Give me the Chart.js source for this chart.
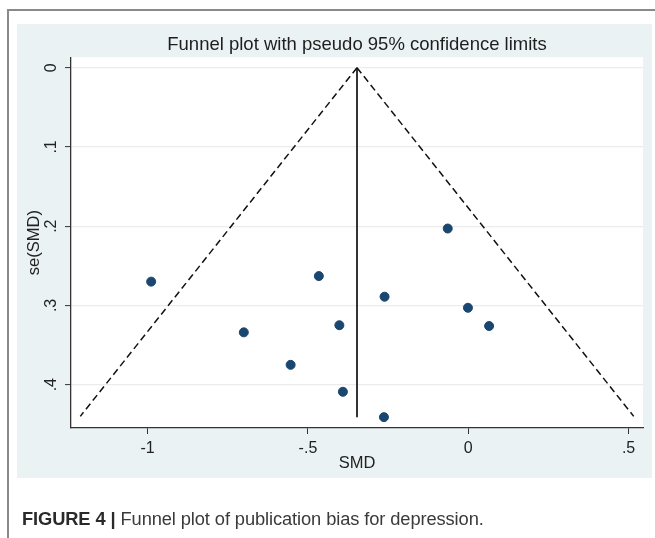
<!DOCTYPE html>
<html>
<head>
<meta charset="utf-8">
<script src="https://cdn.jsdelivr.net/npm/chart.js@4.4.1/dist/chart.umd.min.js"></script>
<style>
  html, body { margin: 0; padding: 0; background: #ffffff; overflow: hidden; }
  #wrap { position: relative; width: 655px; height: 538px; overflow: hidden; }
  #frame { position: absolute; left: 7px; top: 9px; width: 700px; height: 600px;
           border-left: 2px solid #8a8a8a; border-top: 2px solid #8a8a8a; }
  #panel { position: absolute; left: 17px; top: 24px; width: 635px; height: 454px; background: #eaf2f3; }
  #chartBox { position: absolute; left: 0; top: 0; width: 655px; height: 538px; }
  #caption { position: absolute; left: 22px; top: 508px; font-family: "Liberation Sans", Arial, sans-serif;
             font-size: 18.3px; color: #3a3a3a; white-space: nowrap; letter-spacing: -0.1px; }
  #caption b { color: #2a2a2a; }
</style>
</head>
<body>
<div id="wrap">
  <div id="frame"></div>
  <div id="panel"></div>
  <div id="chartBox"><canvas id="funnel" width="655" height="538"></canvas></div>
  <div id="caption"><b>FIGURE 4 |</b> Funnel plot of publication bias for depression.</div>
</div>

<script>
// Study effects (SMD) and their standard errors
const studySMD = [-0.989, -0.700, -0.554, -0.466, -0.402, -0.391, -0.261, -0.263, -0.064, -0.001, 0.065];
const studySE  = [0.270, 0.334, 0.375, 0.263, 0.325, 0.409, 0.289, 0.441, 0.203, 0.303, 0.326];

// Pooled estimate line and pseudo 95% limits (end points)
const pooledX = [-0.347, -0.347];
const pooledSE = [0, 0.441];
const lowerLimitX = [-0.347, -1.210];
const upperLimitX = [-0.347, 0.516];
const limitSE = [0, 0.440];

// Tick labels
const xTicks = [-1, -0.5, 0, 0.5];
const xTickLabels = ['-1', '-.5', '0', '.5'];
const yTicks = [0, 0.1, 0.2, 0.3, 0.4];
const yTickLabels = ['0', '.1', '.2', '.3', '.4'];

const chartTitle = 'Funnel plot with pseudo 95% confidence limits';

const toPoints = (xs, ys) => xs.map((x, i) => ({ x: x, y: ys[i] }));

// White plot region, title over the plot region, rotated y tick labels
const plotBackground = {
    id: 'plotBackground',
    beforeDraw(chart) {
        const { ctx, chartArea } = chart;
        ctx.save();
        ctx.fillStyle = '#ffffff';
        ctx.fillRect(chartArea.left, chartArea.top, chartArea.right - chartArea.left, chartArea.bottom - chartArea.top);
        ctx.restore();
    },
    afterDraw(chart) {
        const { ctx, chartArea } = chart;
        const yScale = chart.scales.y;
        ctx.save();
        ctx.fillStyle = '#1e1e1e';
        ctx.font = '18.5px "Liberation Sans", Arial, sans-serif';
        ctx.textAlign = 'center';
        ctx.textBaseline = 'middle';
        ctx.fillText(chartTitle, (chartArea.left + chartArea.right) / 2, chartArea.top - 12.5);

        ctx.fillStyle = '#222222';
        ctx.font = '16px "Liberation Sans", Arial, sans-serif';
        yTicks.forEach((v, i) => {
            const py = yScale.getPixelForValue(v);
            ctx.save();
            ctx.translate(yScale.right - 19, py);
            ctx.rotate(-Math.PI / 2);
            ctx.fillText(yTickLabels[i], 0, 0);
            ctx.restore();
        });
        ctx.restore();
    }
};

const config = {
    type: 'scatter',
    data: {
        datasets: [
            {
                label: 'studies',
                data: toPoints(studySMD, studySE),
                backgroundColor: '#1a476f',
                borderColor: '#1a476f',
                pointRadius: 4.5,
                pointHoverRadius: 4.5
            },
            {
                label: 'pooled',
                data: toPoints(pooledX, pooledSE),
                showLine: true,
                borderColor: '#111111',
                borderWidth: 1.7,
                pointRadius: 0
            },
            {
                label: 'lower',
                data: toPoints(lowerLimitX, limitSE),
                showLine: true,
                borderColor: '#111111',
                borderWidth: 1.5,
                borderDash: [7, 4],
                pointRadius: 0
            },
            {
                label: 'upper',
                data: toPoints(upperLimitX, limitSE),
                showLine: true,
                borderColor: '#111111',
                borderWidth: 1.5,
                borderDash: [7, 4],
                pointRadius: 0
            }
        ]
    },
    options: {
        responsive: false,
        animation: false,
        layout: { padding: { top: 57.3, right: 12, bottom: 60, left: 0 } },
        plugins: {
            legend: { display: false },
            tooltip: { enabled: false },
            title: { display: false }
        },
        scales: {
            x: {
                type: 'linear',
                min: -1.239,
                max: 0.545,
                afterFit: (s) => { s.height = 50; },
                afterBuildTicks: (s) => { s.ticks = xTicks.map(v => ({ value: v })); },
                border: { display: true, color: '#333333', width: 1.3 },
                grid: { drawOnChartArea: false, drawTicks: true, tickLength: 6, tickColor: '#333333', tickWidth: 1 },
                ticks: {
                    color: '#222222',
                    padding: 5,
                    font: { family: '"Liberation Sans", Arial, sans-serif', size: 16 },
                    callback: (v) => { const i = xTicks.indexOf(v); return i >= 0 ? xTickLabels[i] : ''; }
                },
                title: {
                    display: true,
                    text: 'SMD',
                    color: '#222222',
                    font: { family: '"Liberation Sans", Arial, sans-serif', size: 16.5, lineHeight: 1.2 },
                    padding: { top: 0, bottom: 4.5 }
                }
            },
            y: {
                type: 'linear',
                reverse: true,
                min: -0.0131,
                max: 0.4547,
                afterFit: (s) => { s.width = 71; },
                afterBuildTicks: (s) => { s.ticks = yTicks.map(v => ({ value: v })); },
                border: { display: true, color: '#333333', width: 1.3 },
                grid: { drawOnChartArea: true, color: '#ececec', lineWidth: 1.2, drawTicks: true, tickLength: 6, tickColor: '#333333', tickWidth: 1 },
                ticks: { display: false },
                title: {
                    display: true,
                    text: 'se(SMD)',
                    color: '#222222',
                    font: { family: '"Liberation Sans", Arial, sans-serif', size: 16.5, lineHeight: 1.2 },
                    padding: { top: 25, bottom: 0 }
                }
            }
        }
    },
    plugins: [plotBackground]
};

window.onload = function () {
    const ctx = document.getElementById('funnel').getContext('2d');
    new Chart(ctx, config);
};
</script>
</body>
</html>
